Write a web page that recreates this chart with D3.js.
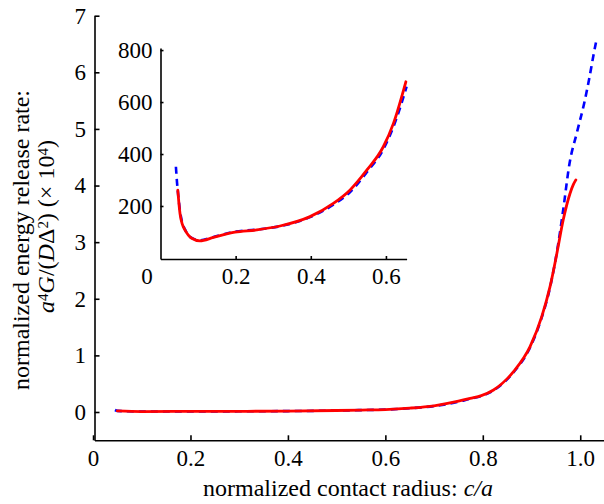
<!DOCTYPE html>
<html>
<head>
<meta charset="utf-8">
<script src="https://cdn.jsdelivr.net/npm/d3@7"></script>
<style>
body { margin: 0; background: #fff; }
text { font-family: "Liberation Serif", "Times New Roman", serif; fill: #000; }
.axis path, .axis line { stroke: #000; stroke-width: 1.6px; }
</style>
</head>
<body>
<script>
(function() {
// main plot: energy release rate (x 10^4) against c/a
var redMainC = [0.05, 0.1, 0.2, 0.3, 0.4, 0.5, 0.55, 0.6, 0.65, 0.7, 0.75, 0.774, 0.797, 0.822, 0.863, 0.897, 0.921, 0.938, 0.952, 0.965, 0.979, 0.986, 0.991];
var redMainG = [0.018, 0.008, 0.010, 0.012, 0.016, 0.026, 0.034, 0.043, 0.068, 0.11, 0.19, 0.24, 0.29, 0.389, 0.712, 1.154, 1.684, 2.214, 2.80, 3.39, 3.86, 4.02, 4.10];
var blueMainC = [0.045, 0.05, 0.1, 0.2, 0.3, 0.4, 0.5, 0.55, 0.6, 0.65, 0.7, 0.75, 0.774, 0.797, 0.822, 0.863, 0.897, 0.921, 0.938, 0.955, 0.965, 0.978, 0.993, 1.008, 1.018, 1.028, 1.034];
var blueMainG = [0.035, 0.02, 0.008, 0.010, 0.012, 0.016, 0.025, 0.033, 0.042, 0.066, 0.105, 0.18, 0.235, 0.28, 0.38, 0.70, 1.14, 1.67, 2.20, 2.98, 3.57, 4.39, 4.93, 5.45, 5.87, 6.34, 6.60];

// inset: same curves, small c/a
var redInsetC = [0.046, 0.049, 0.052, 0.058, 0.065, 0.083, 0.105, 0.141, 0.198, 0.256, 0.318, 0.398, 0.46, 0.504, 0.549, 0.593, 0.62, 0.653];
var redInsetG = [261, 210, 170, 130, 108, 76, 66, 79, 99, 108, 123, 159, 210, 261, 338, 428, 518, 678];
var blueInsetC = [0.041, 0.044, 0.048, 0.052, 0.058, 0.065, 0.083, 0.105, 0.141, 0.198, 0.256, 0.318, 0.398, 0.46, 0.504, 0.549, 0.593, 0.62, 0.655];
var blueInsetG = [351, 290, 230, 180, 135, 110, 77, 68, 81, 101, 109, 122, 157, 205, 253, 330, 418, 505, 659];

var mainTicksX = [0, 0.2, 0.4, 0.6, 0.8, 1.0];
var mainTickLabelsX = ["0", "0.2", "0.4", "0.6", "0.8", "1.0"];
var mainTicksY = [0, 1, 2, 3, 4, 5, 6, 7];
var insetTicksX = [0, 0.2, 0.4, 0.6];
var insetTickLabelsX = ["0", "0.2", "0.4", "0.6"];
var insetTicksY = [200, 400, 600, 800];

var width = 604, height = 504;
var serif = "Liberation Serif, Times New Roman, serif";

var svg = d3.select("body")
    .append("svg")
    .attr("width", width)
    .attr("height", height);

// scales
var x = d3.scaleLinear().domain([0.003, 1.05]).range([94.5, 604.6]);
var y = d3.scaleLinear().domain([-0.5, 7]).range([440.3, 15.7]);
var xi = d3.scaleLinear().domain([0, 0.655]).range([160.5, 406.6]);
var yi = d3.scaleLinear().domain([-4, 808]).range([259, 48]);

function styleAxis(g) {
    g.attr("class", "axis")
        .attr("font-family", serif)
        .attr("font-size", 23);
}

// main axes
svg.append("g")
    .attr("transform", "translate(0," + y(-0.5) + ")")
    .call(d3.axisBottom(x).tickValues(mainTicksX)
        .tickFormat((d, i) => mainTickLabelsX[i])
        .tickSizeInner(-5).tickSizeOuter(0).tickPadding(9.7))
    .call(styleAxis);

svg.append("g")
    .attr("transform", "translate(" + x(0.003) + ",0)")
    .call(d3.axisLeft(y).tickValues(mainTicksY)
        .tickFormat(d3.format("d"))
        .tickSizeInner(-5).tickSizeOuter(0).tickPadding(8.5))
    .call(styleAxis);

// inset axes
var insetX = svg.append("g")
    .attr("transform", "translate(0," + yi(-4) + ")")
    .call(d3.axisBottom(xi).tickValues(insetTicksX)
        .tickFormat((d, i) => insetTickLabelsX[i])
        .tickSizeInner(-3).tickSizeOuter(0).tickPadding(8.7))
    .call(styleAxis);
// the origin label sits left of the corner
insetX.selectAll(".tick").filter(d => d === 0).select("line").remove();
insetX.selectAll(".tick").filter(d => d === 0).select("text").attr("dx", -14);

svg.append("g")
    .attr("transform", "translate(" + xi(0) + ",0)")
    .call(d3.axisLeft(yi).tickValues(insetTicksY)
        .tickFormat(d3.format("d"))
        .tickSizeInner(-3).tickSizeOuter(0).tickPadding(8))
    .call(styleAxis);

// curves
function drawCurve(sx, sy, cs, gs, color, dashed) {
    var pts = cs.map((c, i) => [c, gs[i]]);
    var line = d3.line()
        .x(d => sx(d[0]))
        .y(d => sy(d[1]))
        .curve(d3.curveMonotoneX);
    svg.append("path")
        .datum(pts)
        .attr("d", line)
        .attr("fill", "none")
        .attr("stroke", color)
        .attr("stroke-width", dashed ? 2.6 : 2.8)
        .attr("stroke-dasharray", dashed ? "7,5" : null)
        .attr("stroke-linejoin", "round")
        .attr("stroke-linecap", dashed ? "butt" : "round");
}

drawCurve(x, y, blueMainC, blueMainG, "#0000ff", true);
drawCurve(x, y, redMainC, redMainG, "#ff0000", false);
drawCurve(xi, yi, blueInsetC, blueInsetG, "#0000ff", true);
drawCurve(xi, yi, redInsetC, redInsetG, "#ff0000", false);

// x axis title
var xt = svg.append("text")
    .attr("x", 348)
    .attr("y", 496)
    .attr("text-anchor", "middle")
    .attr("font-family", serif)
    .style("font-size", "24px");
xt.append("tspan").text("normalized contact radius: ");
xt.append("tspan").style("font-style", "italic").text("c/a");

// y axis title, two lines
svg.append("text")
    .attr("transform", "translate(29,240) rotate(-90)")
    .attr("text-anchor", "middle")
    .attr("font-family", serif)
    .style("font-size", "24px")
    .text("normalized energy release rate:");

var yt = svg.append("text")
    .attr("transform", "translate(54,226.5) rotate(-90)")
    .attr("text-anchor", "middle")
    .attr("font-family", serif)
    .style("font-size", "24px");
yt.append("tspan").style("font-style", "italic").text("a");
yt.append("tspan").style("font-size", "15px").attr("dy", -6).text("4");
yt.append("tspan").attr("dy", 6).style("font-style", "italic").text("G");
yt.append("tspan").text("/(");
yt.append("tspan").style("font-style", "italic").text("D");
yt.append("tspan").text("\u0394");
yt.append("tspan").style("font-size", "15px").attr("dy", -6).text("2");
yt.append("tspan").attr("dy", 6).text(") (\u00d7 10");
yt.append("tspan").style("font-size", "15px").attr("dy", -6).text("4");
yt.append("tspan").attr("dy", 6).text(")");
})();
</script>
</body>
</html>
